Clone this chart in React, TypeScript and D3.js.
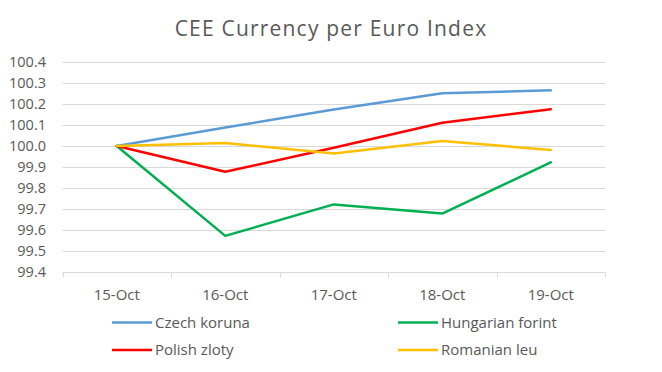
// App.tsx
// CEE currency per euro index, line chart drawn with d3 into an svg ref
import * as d3 from 'd3';
import React, { useRef, useEffect } from 'react';

const dates = ['15-Oct', '16-Oct', '17-Oct', '18-Oct', '19-Oct'];
const czech = [100.0, 100.088, 100.174, 100.251, 100.265];
const hungarian = [100.0, 99.572, 99.722, 99.678, 99.922];
const polish = [100.0, 99.877, 99.992, 100.111, 100.175];
const romanian = [100.0, 100.014, 99.964, 100.024, 99.981];
const yTicks = [99.4, 99.5, 99.6, 99.7, 99.8, 99.9, 100.0, 100.1, 100.2, 100.3, 100.4];

const seriesNames = ['Czech koruna', 'Hungarian forint', 'Polish zloty', 'Romanian leu'];
const seriesValues = [czech, hungarian, polish, romanian];
const seriesColors = ['#5B9BD5', '#00B050', '#FF0000', '#FFC000'];

const width = 662;
const height = 372;
const font = "'Open Sans', sans-serif";
const grey = '#595959';

function Chart() {
    const ref = useRef<SVGSVGElement>(null);

    useEffect(() => {
        const svg = d3.select(ref.current);
        svg.selectAll('*').remove();

        const left = 62.5, right = 605, top = 62, bottom = 272;

        const x = d3.scaleBand().domain(dates).range([left, right]);
        const y = d3.scaleLinear().domain([99.4, 100.4]).range([bottom, top]);

        // title
        svg.append('text')
            .attr('x', 331)
            .attr('y', 36)
            .attr('text-anchor', 'middle')
            .attr('font-family', font)
            .attr('font-size', 21)
            .attr('letter-spacing', 1.2)
            .attr('fill', grey)
            .text('CEE Currency per Euro Index');

        // gridlines
        svg.append('g')
            .selectAll('line')
            .data(yTicks.slice(1))
            .enter()
            .append('line')
            .attr('x1', left)
            .attr('x2', right)
            .attr('y1', d => Math.round(y(d)) + 0.5)
            .attr('y2', d => Math.round(y(d)) + 0.5)
            .attr('stroke', '#d9d9d9')
            .attr('stroke-width', 1);

        // y labels
        svg.append('g')
            .selectAll('text')
            .data(yTicks)
            .enter()
            .append('text')
            .attr('x', 46)
            .attr('y', d => y(d))
            .attr('dy', '0.36em')
            .attr('text-anchor', 'end')
            .attr('font-family', font)
            .attr('font-size', 14.5)
            .attr('fill', grey)
            .text(d => d.toFixed(1));

        // x axis
        const xAxis = svg.append('g').attr('transform', 'translate(0,' + (bottom + 0.5) + ')');
        xAxis.append('line')
            .attr('x1', left).attr('x2', right)
            .attr('stroke', '#d9d9d9');
        const edges = dates.map(d => x(d) as number).concat([right]);
        xAxis.selectAll('line.tick')
            .data(edges)
            .enter()
            .append('line')
            .attr('class', 'tick')
            .attr('x1', d => Math.round(d) + 0.5)
            .attr('x2', d => Math.round(d) + 0.5)
            .attr('y1', 0)
            .attr('y2', 5)
            .attr('stroke', '#d9d9d9');
        xAxis.selectAll('text')
            .data(dates)
            .enter()
            .append('text')
            .attr('x', d => (x(d) as number) + x.bandwidth() / 2)
            .attr('y', 27.5)
            .attr('text-anchor', 'middle')
            .attr('font-family', font)
            .attr('font-size', 15)
            .attr('fill', grey)
            .text(d => d);

        // lines
        const line = d3.line<number>()
            .x((d, i) => (x(dates[i]) as number) + x.bandwidth() / 2)
            .y(d => y(d));

        svg.append('g')
            .selectAll('path')
            .data(seriesValues)
            .enter()
            .append('path')
            .attr('d', d => line(d))
            .attr('fill', 'none')
            .attr('stroke', (d, i) => seriesColors[i])
            .attr('stroke-width', 2.5)
            .attr('stroke-linejoin', 'round')
            .attr('stroke-linecap', 'round');

        // legend, two columns two rows
        const legendX = [112, 398];
        const legendY = [322.5, 350];
        const legend = svg.append('g')
            .selectAll('g')
            .data(seriesNames)
            .enter()
            .append('g')
            .attr('transform', (d, i) => 'translate(' + legendX[i % 2] + ',' + legendY[Math.floor(i / 2)] + ')');
        legend.append('line')
            .attr('x1', 0).attr('x2', 40)
            .attr('stroke', (d, i) => seriesColors[i])
            .attr('stroke-width', 2.5);
        legend.append('text')
            .attr('x', 43)
            .attr('dy', '0.36em')
            .attr('font-family', font)
            .attr('font-size', 15)
            .attr('fill', grey)
            .text(d => d);
    }, []);

    return (
        <svg ref={ref} width={width} height={height}
            style={{ position: 'absolute', left: 0, top: 0, background: '#fff' }}>
        </svg>
    );
}

export default function App() {
    return <Chart />;
}
